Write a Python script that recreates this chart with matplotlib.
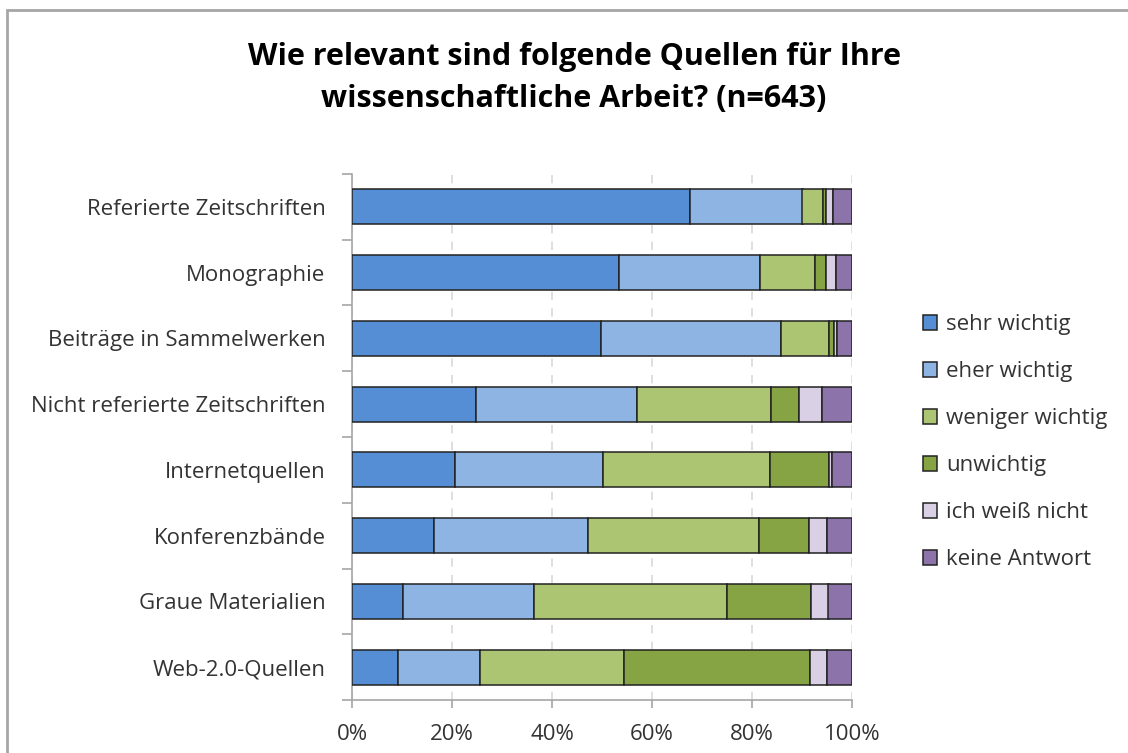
import matplotlib
matplotlib.use("Agg")
import matplotlib.pyplot as plt
from matplotlib.patches import Rectangle
import numpy as np

plt.rcParams['font.family'] = ['Open Sans', 'DejaVu Sans']

categories = ["Referierte Zeitschriften", "Monographie", "Beiträge in Sammelwerken",
              "Nicht referierte Zeitschriften", "Internetquellen", "Konferenzbände",
              "Graue Materialien", "Web-2.0-Quellen"]
series_names = ["sehr wichtig", "eher wichtig", "weniger wichtig", "unwichtig",
                "ich weiß nicht", "keine Antwort"]
sehr_wichtig    = [67.5, 53.3, 49.7, 24.8, 20.6, 16.3, 10.1, 9.1]
eher_wichtig    = [22.6, 28.3, 36.1, 32.2, 29.5, 30.9, 26.2, 16.4]
weniger_wichtig = [4.2, 11.1, 9.5, 26.8, 33.4, 34.1, 38.7, 28.8]
unwichtig       = [0.6, 2.2, 1.0, 5.6, 11.9, 10.1, 16.7, 37.4]
weiss_nicht     = [1.4, 2.0, 0.6, 4.6, 0.6, 3.6, 3.6, 3.3]
keine_antwort   = [3.7, 3.1, 3.1, 6.0, 4.0, 5.0, 4.7, 5.0]
series = [sehr_wichtig, eher_wichtig, weniger_wichtig, unwichtig, weiss_nicht, keine_antwort]
colors = ["#558ED5", "#8EB4E3", "#ACC573", "#86A443", "#D9D0E5", "#8C74AA"]
xticks = [0, 20, 40, 60, 80, 100]
xticklabels = ["0%", "20%", "40%", "60%", "80%", "100%"]
title = "Wie relevant sind folgende Quellen für Ihre\nwissenschaftliche Arbeit? (n=643)"

W, H = 1128, 753
fig = plt.figure(figsize=(W / 100, H / 100), dpi=100)
ax = fig.add_axes([352 / W, 53 / H, (852 - 352) / W, (700 - 174) / H])

y = np.arange(len(categories))
left = np.zeros(len(categories))
handles = []
for vals, c, name in zip(series, colors, series_names):
    v = np.array(vals)
    b = ax.barh(y, v, left=left, height=0.53, color=c, edgecolor="#222222",
                linewidth=1.1, label=name, zorder=3)
    handles.append(b)
    left = left + v

FS = 16
ax.set_xlim(0, 100)
ax.set_ylim(len(categories) - 0.5, -0.5)
ax.set_xticks(xticks)
ax.set_xticklabels(xticklabels, fontsize=FS, color="#333333")
ax.set_yticks(y)
ax.set_yticklabels(categories, fontsize=FS, color="#333333")
ax.tick_params(axis='y', length=0, pad=19)
ax.set_yticks(np.arange(-0.5, len(categories) + 0.5, 1.0), minor=True)
ax.tick_params(axis='y', which='minor', length=7, color="#a6a6a6", width=1.2, direction='out')
ax.tick_params(axis='x', length=6, color="#a6a6a6", width=1.2, direction='out', pad=11)
ax.grid(axis='x', linestyle=(0, (5, 5)), color="#d9d9d9", linewidth=1.2, zorder=0)
for s in ['top', 'right']:
    ax.spines[s].set_visible(False)
for s in ['left', 'bottom']:
    ax.spines[s].set_color("#a6a6a6")
    ax.spines[s].set_linewidth(1.2)
ax.spines['bottom'].set_zorder(4)

fig.text(574 / W, 1 - 78 / H, title, ha='center', va='center', fontsize=22,
         fontweight='bold', linespacing=1.55, color="#000000")

leg = fig.legend(handles=handles, labels=series_names, loc='upper left',
                 bbox_to_anchor=(914 / W, 1 - 305 / H), frameon=False, fontsize=FS,
                 handlelength=0.65, handleheight=0.65, handletextpad=0.4,
                 labelspacing=1.17, borderaxespad=0)
for t in leg.get_texts():
    t.set_color("#333333")

fig.add_artist(Rectangle((7 / W, -0.05), 1.2, 1 - 10 / H + 0.05, transform=fig.transFigure,
                         fill=False, edgecolor="#a6a6a6", linewidth=2.0))

fig.savefig("out.png", dpi=100, facecolor="white")
